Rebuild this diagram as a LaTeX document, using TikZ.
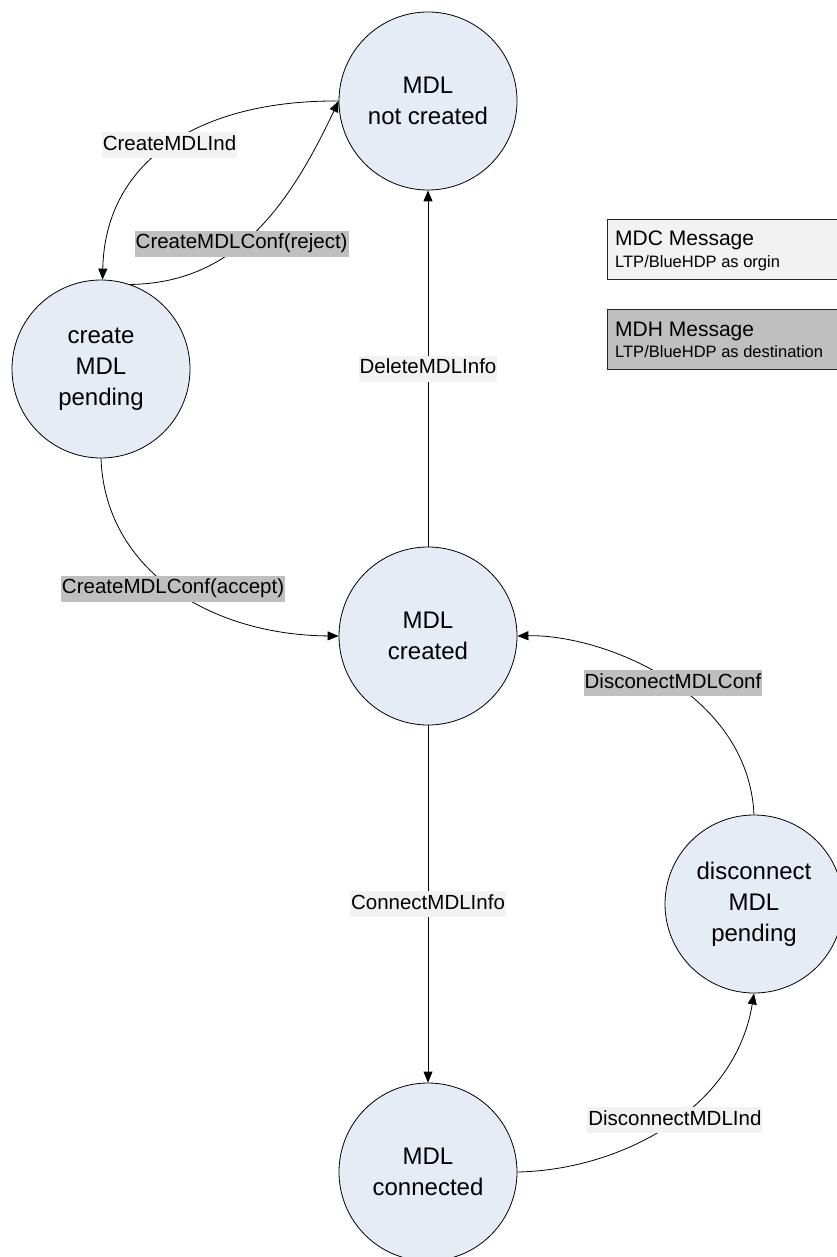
\documentclass[tikz,border=0pt]{standalone}
\usepackage{fontspec}
\setmainfont{Liberation Sans}
\usetikzlibrary{arrows.meta}
\definecolor{statefill}{RGB}{230,236,246}
\definecolor{lightlbl}{RGB}{242,242,242}
\definecolor{darklbl}{RGB}{191,191,191}
\tikzset{
  state/.style={circle, draw=black, line width=0.8pt, fill=statefill, minimum size=178pt, inner sep=0pt, align=center, font=\fontsize{24}{31}\selectfont},
  edge/.style={line width=0.8pt, -{Triangle[length=11pt,width=9pt]}},
  lbl/.style={font=\fontsize{20.5}{24}\selectfont, inner xsep=1pt, inner ysep=2pt, text height=16pt, text depth=6pt},
  lbllight/.style={lbl, fill=lightlbl},
  lbldark/.style={lbl, fill=darklbl},
  legbox/.style={draw=black!85, line width=0.8pt, minimum width=250pt, minimum height=60pt, inner sep=0pt},
  legtitle/.style={anchor=base west, inner sep=0pt, font=\fontsize{21}{24}\selectfont},
  legsub/.style={anchor=base west, inner sep=0pt, font=\fontsize{16.5}{20}\selectfont}
}
\begin{document}
\begin{tikzpicture}[x=1pt,y=-1pt]
\useasboundingbox (0,0) rectangle (837,1257);

% states
\node[state] (nc) at (428,101) {MDL\\not created};
\node[state] (pend) at (101,369) {create\\MDL\\pending};
\node[state] (cr) at (428,636) {MDL\\created};
\node[state] (disc) at (754,904) {disconnect\\MDL\\pending};
\node[state] (conn) at (428,1172) {MDL\\connected};

% legend
\node[legbox, fill=lightlbl, anchor=north west] (leg1) at (607,219) {};
\node[legtitle] (leg1a) at (615,246) {MDC Message};
\node[legsub] (leg1b) at (615,267) {LTP/BlueHDP as orgin};
\node[legbox, fill=darklbl, anchor=north west] (leg2) at (607,309) {};
\node[legtitle] (leg2a) at (615,336) {MDH Message};
\node[legsub] (leg2b) at (615,357) {LTP/BlueHDP as destination};

% transitions
\draw[edge] (nc.west) .. controls (200,100) and (105,160) .. (pend.89)
  node[lbllight, pos=0.5] (l1) {CreateMDLInd};
\draw[edge] (pend.71) .. controls (230,283) and (285,215) .. (nc.west)
  node[lbldark, pos=0.45] (l2) {CreateMDLConf(reject)};
\draw[edge] (pend.south) .. controls (105,570) and (210,635) .. (cr.west)
  node[lbldark, pos=0.5] (l3) {CreateMDLConf(accept)};
\draw[edge] (cr.north) -- (nc.south)
  node[lbllight, pos=0.5] (l4) {DeleteMDLInfo};
\draw[edge] (cr.south) -- (conn.north)
  node[lbllight, pos=0.5] (l5) {ConnectMDLInfo};
\draw[edge] (disc.north) .. controls (748,690) and (600,634) .. (cr.east)
  node[lbldark, pos=0.47] (l6) {DisconectMDLConf};
\draw[edge] (conn.east) .. controls (620,1170) and (735,1110) .. (disc.south)
  node[lbllight, pos=0.53] (l7) {DisconnectMDLInd};
\end{tikzpicture}
\end{document}
